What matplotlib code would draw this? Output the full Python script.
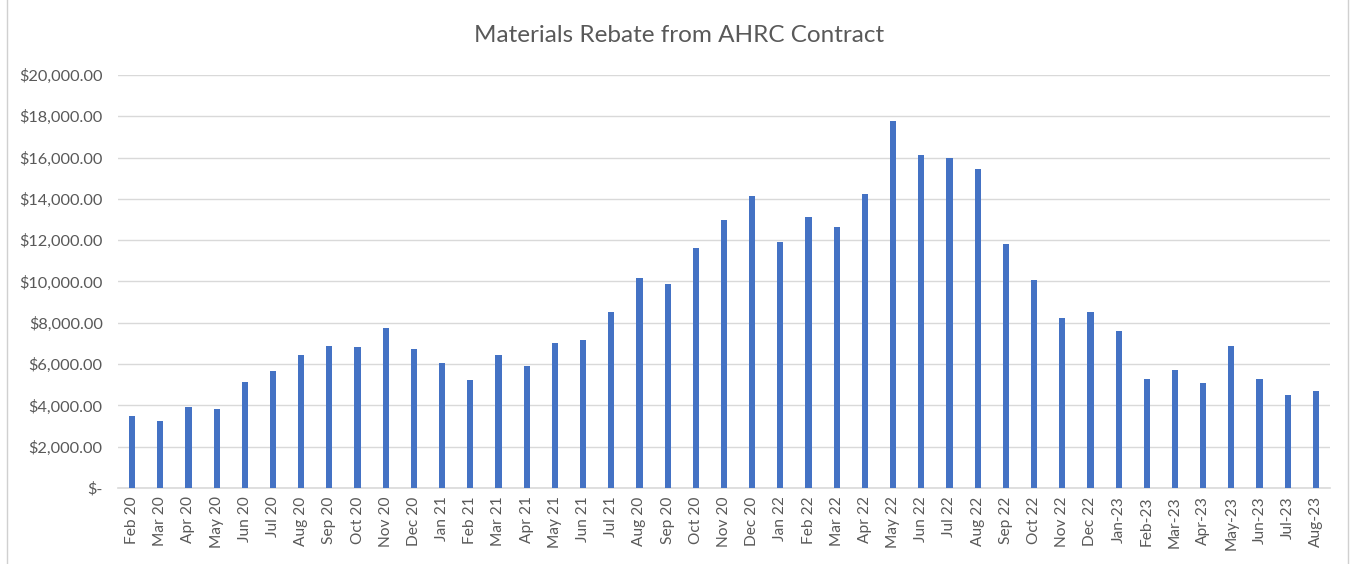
import matplotlib.pyplot as plt
from matplotlib.ticker import FuncFormatter, MultipleLocator
from matplotlib.lines import Line2D

# monthly rebate values
months = ['Feb 20', 'Mar 20', 'Apr 20', 'May 20', 'Jun 20', 'Jul 20', 'Aug 20',
          'Sep 20', 'Oct 20', 'Nov 20', 'Dec 20', 'Jan 21', 'Feb 21', 'Mar 21',
          'Apr 21', 'May 21', 'Jun 21', 'Jul 21', 'Aug 20', 'Sep 20', 'Oct 20',
          'Nov 20', 'Dec 20', 'Jan 22', 'Feb 22', 'Mar 22', 'Apr 22', 'May 22',
          'Jun 22', 'Jul 22', 'Aug 22', 'Sep 22', 'Oct 22', 'Nov 22', 'Dec 22',
          'Jan-23', 'Feb-23', 'Mar-23', 'Apr-23', 'May-23', 'Jun-23', 'Jul-23',
          'Aug-23']
rebate = [3490, 3260, 3940, 3810, 5130, 5680, 6450, 6860, 6810, 7760, 6720,
          6040, 5210, 6450, 5890, 7030, 7170, 8520, 10170, 9890, 11620,
          12980, 14120, 11890, 13120, 12620, 14250, 17770, 16110, 16000,
          15450, 11810, 10080, 8250, 8520, 7620, 5290, 5710, 5080, 6890,
          5290, 4520, 4700]

plt.rcParams['font.family'] = ['Lato', 'DejaVu Sans']
text_col = '#595959'
grid_col = '#D9D9D9'

fig = plt.figure(figsize=(13.53, 5.64), dpi=100)
ax = fig.add_axes([0.0872, 0.1348, 0.8958, 0.7322])

x = range(len(months))
ax.bar(x, rebate, width=0.22, color='#4472C4', zorder=3)

ax.set_xlim(-0.5, len(months) - 0.5)
ax.set_ylim(0, 20000)
ax.yaxis.set_major_locator(MultipleLocator(2000))


def money(v, pos):
    if v == 0:
        return '$-'
    return '${:,.2f}'.format(v)


ax.yaxis.set_major_formatter(FuncFormatter(money))
ax.set_xticks(list(x))
ax.set_xticklabels(months, rotation=90)
ax.tick_params(axis='both', length=0, colors=text_col)
ax.tick_params(axis='y', labelsize=11.8, pad=11)
ax.tick_params(axis='x', labelsize=11.2, pad=6)

ax.grid(axis='y', color=grid_col, linewidth=1, zorder=0)
for s in ['top', 'right', 'left']:
    ax.spines[s].set_visible(False)
ax.spines['bottom'].set_color(grid_col)
ax.spines['bottom'].set_linewidth(1.2)

fig.text(0.502, 0.937, 'Materials Rebate from AHRC Contract',
         ha='center', va='center', fontsize=17.5, color=text_col)

# chart frame edges
fig.add_artist(Line2D([7 / 1353, 7 / 1353], [0, 1], color='#D0D0D0', lw=1))
fig.add_artist(Line2D([1348 / 1353, 1348 / 1353], [0, 1], color='#D0D0D0', lw=1))

fig.savefig('out.png', dpi=100)
